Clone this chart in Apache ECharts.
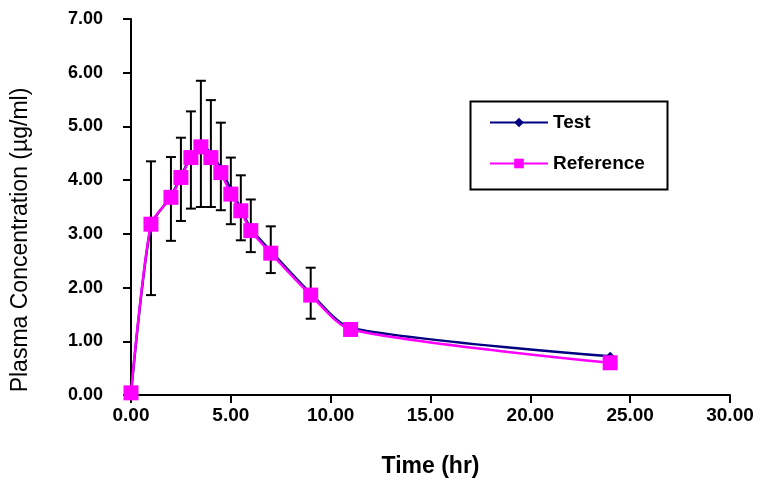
<!DOCTYPE html>
<html><head><meta charset="utf-8">
<script src="https://cdn.jsdelivr.net/npm/echarts@6/dist/echarts.min.js"></script>
<style>html,body{margin:0;padding:0;background:#fff}#c{width:762px;height:486px}</style>
</head><body><div id="c"></div>
<script>
const times = [0, 1, 2, 2.5, 3, 3.5, 4, 4.5, 5, 5.5, 6, 7, 9, 11, 24];
const testConc = [0.02, 3.15, 3.70, 4.07, 4.44, 4.66, 4.50, 4.22, 3.82, 3.47, 3.10, 2.68, 1.89, 1.25, 0.72];
const refConc  = [0.04, 3.18, 3.68, 4.05, 4.42, 4.62, 4.42, 4.14, 3.74, 3.43, 3.06, 2.64, 1.86, 1.22, 0.60];
const errHigh  = [null, 4.35, 4.43, 4.79, 5.28, 5.85, 5.49, 5.07, 4.42, 4.09, 3.64, 3.14, 2.37, null, null];
const errLow   = [null, 1.86, 2.87, 3.24, 3.47, 3.50, 3.50, 3.44, 3.18, 2.88, 2.66, 2.27, 1.42, null, null];
const seriesNames = ['Test', 'Reference'];
const xTitle = 'Time (hr)';
const yTitle = 'Plasma Concentration (\u00b5g/ml)';

const FONT = '"Liberation Sans", Arial, sans-serif';
const chart = echarts.init(document.getElementById('c'), null, {renderer: 'canvas'});

const pairs = a => times.map((t, i) => [t, a[i]]);
const errData = times.map((t, i) => [t, errLow[i], errHigh[i]]).filter(d => d[1] != null);

chart.setOption({
  animation: false,
  backgroundColor: '#fff',
  grid: {left: 131, right: 32, top: 19, bottom: 91, outerBoundsMode: 'none'},
  xAxis: {
    type: 'value', min: 0, max: 30, interval: 5,
    name: xTitle, nameLocation: 'middle', nameGap: 60,
    nameTextStyle: {fontFamily: FONT, fontSize: 23, fontWeight: 'bold', color: '#000'},
    axisLine: {onZero: false, lineStyle: {color: '#000', width: 2}},
    axisTick: {show: true, length: 8, lineStyle: {color: '#000', width: 2}},
    axisLabel: {margin: 11, fontFamily: FONT, fontSize: 19, fontWeight: 'bold', color: '#000',
                formatter: v => v.toFixed(2)},
    splitLine: {show: false}
  },
  yAxis: {
    type: 'value', min: 0, max: 7, interval: 1,
    axisLine: {show: true, lineStyle: {color: '#000', width: 2}},
    axisTick: {show: true, length: 8, lineStyle: {color: '#000', width: 2}},
    axisLabel: {margin: 28, fontFamily: FONT, fontSize: 18, fontWeight: 'bold', color: '#000',
                formatter: v => v.toFixed(2)},
    splitLine: {show: false}
  },
  legend: {
    orient: 'vertical', left: 484, top: 108, itemWidth: 58, itemHeight: 12, itemGap: 22,
    textStyle: {fontFamily: FONT, fontSize: 19, fontWeight: 'bold', color: '#000'},
    data: seriesNames
  },
  graphic: [
    {type: 'rect', left: 468, top: 99, shape: {width: 197, height: 88},
     style: {fill: 'none', stroke: '#000', lineWidth: 2}, z: 10},
    {type: 'text', x: 21, y: 240, rotation: Math.PI / 2,
     style: {text: yTitle, font: '23px ' + FONT, fill: '#000', align: 'center', verticalAlign: 'middle'}}
  ],
  series: [
    {
      type: 'custom', name: 'err', z: 1, silent: true,
      data: errData,
      renderItem: (params, api) => {
        const x = api.value(0);
        const lo = api.coord([x, api.value(1)]);
        const hi = api.coord([x, api.value(2)]);
        const w = 5;
        const st = {stroke: '#000', lineWidth: 2};
        return {type: 'group', children: [
          {type: 'line', shape: {x1: lo[0], y1: lo[1], x2: hi[0], y2: hi[1]}, style: st},
          {type: 'line', shape: {x1: hi[0] - w, y1: hi[1], x2: hi[0] + w, y2: hi[1]}, style: st},
          {type: 'line', shape: {x1: lo[0] - w, y1: lo[1], x2: lo[0] + w, y2: lo[1]}, style: st}
        ]};
      }
    },
    {
      type: 'line', name: seriesNames[0], z: 2, data: pairs(testConc), smooth: 0.25,
      symbol: 'diamond', symbolSize: 9,
      lineStyle: {color: '#000080', width: 2.5}, itemStyle: {color: '#000080'}
    },
    {
      type: 'line', name: seriesNames[1], z: 3, data: pairs(refConc), smooth: 0.25,
      symbol: 'rect', symbolSize: 15,
      lineStyle: {color: '#ff00ff', width: 2.5}, itemStyle: {color: '#ff00ff'}
    }
  ]
});
</script></body></html>
